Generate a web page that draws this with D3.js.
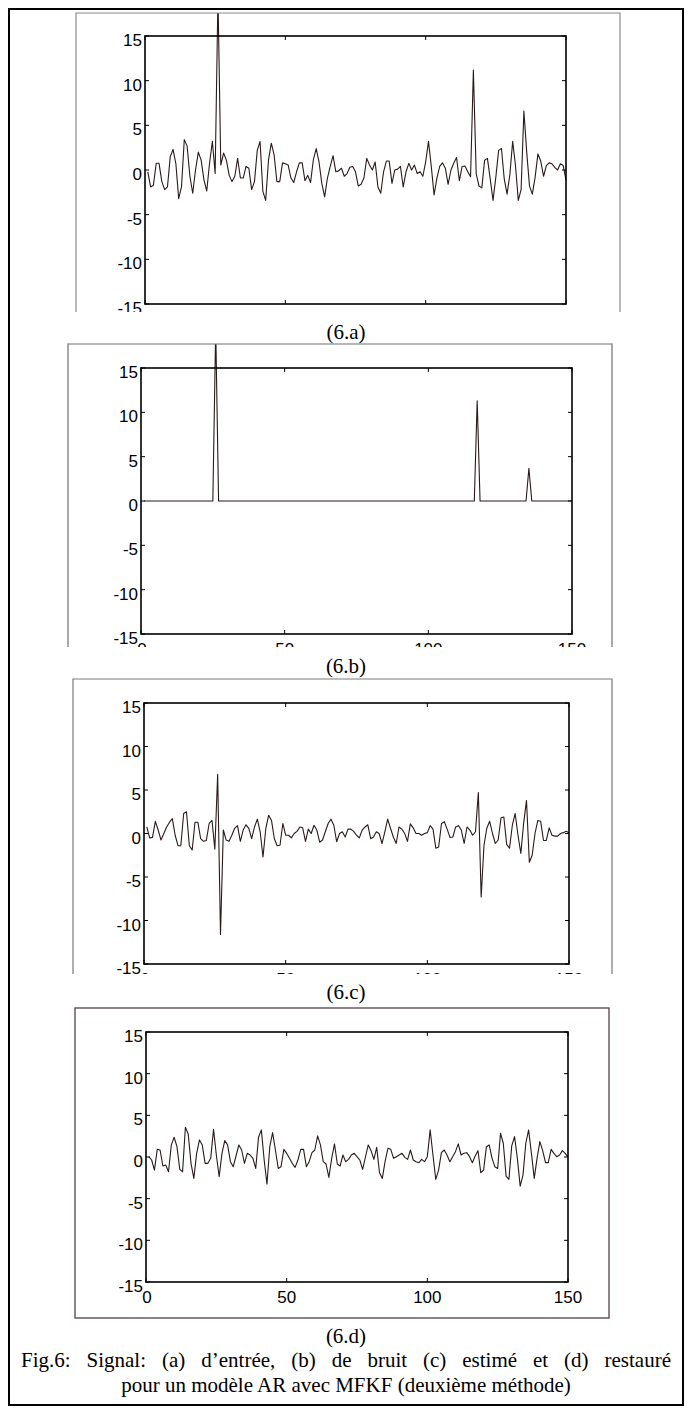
<!DOCTYPE html>
<html lang="fr">
<head>
<meta charset="UTF-8">
<title>Fig.6 Signal AR MFKF</title>
<script src="https://d3js.org/d3.v7.min.js"></script>
<style>
  body { margin: 0; background: #fff; }
  .tick-label { font-family: "Liberation Sans", Arial, sans-serif; font-size: 17px; fill: #000; }
  .caption { font-family: "Liberation Serif", "Times New Roman", serif; font-size: 21px; fill: #000; }
</style>
</head>
<body>
<svg id="fig" width="692" height="1412"></svg>
<script>
// axis ticks
const xTicks = [0, 50, 100, 150];
const yTicks = [-15, -10, -5, 0, 5, 10, 15];

// (6.a) signal d'entrée, samples 1..150
const inputSignal = [
  -0.2, -1.9, -1.7, 0.75, 0.75, -1.3, -2.2, -1.9, 1.5, 2.3,
  0.7, -3.2, -1.9, 3.4, 2.7, -0.7, -2.6, 0, 2.0, 1.1,
  -1.1, -2.35, 0.75, 3.2, -0.4, 19.5, 0.55, 1.9, 1.1, -0.6,
  -1.3, -0.7, 1.3, -0.9, -0.9, 0.4, 0.2, -2.2, -1.3, 2.2,
  3.2, -2.4, -3.4, 1.1, 3.0, 1.7, -1.3, -1.3, 0.8, 0.7,
  0.55, -0.9, -1.4, -0.2, 0.8, 0.8, -1.2, -0.6, -1.4, 1.2,
  2.4, 0.9, -1.5, -3.0, -0.9, 0.4, 1.6, -0.2, -0.1, 0.2,
  -0.7, -0.4, 0.3, 0.4, -0.2, -1.8, -1.6, -0.9, 1.3, 0.55,
  0, 0.9, -1.9, -2.6, -0.2, 1.0, 1.0, -1.5, 0, 0.1,
  0.4, -1.9, -0.2, 0.75, 0, 0.55, -0.4, -0.2, -0.7, 0.9,
  3.2, 0.4, -2.8, -0.9, 0.4, 0.8, 0.2, -1.6, 0, 0.75,
  1.4, -1.2, 0.4, 0.45, -0.2, -0.75, 11.2, -0.4, -1.8, -2.0,
  1.1, 1.3, -1.0, -3.4, -0.8, 2.2, 2.4, -1.0, -2.7, -0.5,
  3.2, 0.5, -3.4, -2.2, 6.6, 2.0, -1.8, -2.7, -0.8, 1.8,
  1.0, -0.7, 0.5, 0.8, 0.7, 0.3, 0, 0.7, 0.5, -1.1
];

// (6.b) signal de bruit
const noiseSignal = [
  0, 0, 0, 0, 0, 0, 0, 0, 0, 0,
  0, 0, 0, 0, 0, 0, 0, 0, 0, 0,
  0, 0, 0, 0, 0, 19.5, 0, 0, 0, 0,
  0, 0, 0, 0, 0, 0, 0, 0, 0, 0,
  0, 0, 0, 0, 0, 0, 0, 0, 0, 0,
  0, 0, 0, 0, 0, 0, 0, 0, 0, 0,
  0, 0, 0, 0, 0, 0, 0, 0, 0, 0,
  0, 0, 0, 0, 0, 0, 0, 0, 0, 0,
  0, 0, 0, 0, 0, 0, 0, 0, 0, 0,
  0, 0, 0, 0, 0, 0, 0, 0, 0, 0,
  0, 0, 0, 0, 0, 0, 0, 0, 0, 0,
  0, 0, 0, 0, 0, 0, 11.3, 0, 0, 0,
  0, 0, 0, 0, 0, 0, 0, 0, 0, 0,
  0, 0, 0, 0, 3.7, 0, 0, 0, 0, 0,
  0, 0, 0, 0, 0, 0, 0, 0, 0, 0
];

// (6.c) signal estimé
const estimatedSignal = [
  0.77, -0.5, -0.45, 1.4, 0.4, -0.75, 0, 0.75, 1.3, 1.7,
  -0.2, -1.4, -1.4, 2.3, 2.5, -1.4, -1.9, 1.3, 1.3, -0.6,
  -0.9, -0.8, 1.15, 1.5, -1.8, 6.8, -11.6, 0.4, -0.75, -0.9,
  -0.2, 0.6, 0.9, -0.9, 0.4, 1.0, 0.6, -0.6, 0.75, 1.65,
  0.2, -2.7, 0.6, 2.1, 1.5, -0.6, -1.4, -1.35, 1.15, -0.2,
  -0.2, -0.5, 0, 0.25, 0.75, 0.65, -0.9, 0.5, 0, 0.95,
  0.4, -1.0, -0.75, 0.2, 1.15, 1.65, 0.95, -0.95, 0, 0.2,
  -0.4, 0.5, 0.5, 0.25, -0.2, -0.5, 0.4, 0.75, 1.0, -0.6,
  -0.4, 0.2, 0, -1.15, 0.2, 1.65, 0.6, -0.4, -1.15, 0.75,
  0.5, 0, -0.9, 1.1, 0.65, 0, 0, -0.2, 0, 0.1,
  0.9, 0.5, -1.7, -1.55, 1.15, 1.35, 0.5, -0.45, -0.4, 0.75,
  0.9, 0.4, -1.15, 0.75, 0.4, -0.2, 0.2, 4.7, -7.3, -1.35,
  0.6, 1.4, 0, -1.15, -0.75, 1.8, 1.9, -1.25, -1.7, 0.95,
  2.3, -0.2, -2.3, 1.2, 3.8, -3.3, -2.5, 0, 1.5, 1.4,
  -0.8, -0.8, 0.65, -0.2, -0.3, -0.3, 0, 0.1, 0.25, 0.1
];

// (6.d) signal restauré
const restoredSignal = [
  0.04, -0.36, -1.57, 0.92, 0.84, -1.08, -0.96, -1.77, 1.45, 2.37,
  1.24, -1.49, -1.77, 3.57, 2.77, -0.76, -2.57, 0.44, 2.05, 1.45,
  -0.76, -0.76, -0.16, 3.33, 0.24, -2.37, 0.44, 1.97, 1.45, -0.56,
  -1.16, 0.12, 1.45, 0.84, -0.76, 0.44, 0.24, -0.16, -1.37, 2.37,
  3.25, -0.36, -3.25, 1.24, 2.93, 0.84, -1.37, -1.16, 0.92, 0.44,
  -0.16, -0.76, -1.24, -0.36, 0.92, 0.92, -1.16, -0.56, 0.52, 0.84,
  2.53, 1.45, -0.56, -0.84, -2.45, -0.16, 1.57, -0.84, -1.08, 0.24,
  -0.56, -0.28, 0.24, 0.44, 0.04, -0.36, -1.49, 0.0, 1.45, 0.76,
  -0.28, 1.16, -1.89, -2.57, -0.5, 1.04, 0.92, -0.16, 0.04, 0.24,
  0.44, -0.04, -0.28, 0.84, -0.36, -0.56, -0.68, -0.28, -0.56, 0.04,
  3.25, 0.24, -2.69, -1.57, 0.52, 0.84, 0.24, -0.56, 0.04, 0.64,
  1.57, 0.24, 0.44, 0.52, 0.04, -0.68, 0.12, 0.76, -1.89, -1.57,
  1.24, 1.45, -0.16, -1.16, -1.37, 2.85, 1.65, -2.29, -2.69, 1.33,
  2.45, -0.16, -3.49, -2.17, 1.65, 3.25, 0.44, -2.57, -0.16, 1.85,
  0.76, -0.68, -0.68, 0.92, 0.44, 0.04, 0.24, 0.76, 0.44, -0.04
];

const panelCaptions = ["(6.a)", "(6.b)", "(6.c)", "(6.d)"];
const figCaption = [
  "Fig.6: Signal: (a) d\u2019entrée, (b) de bruit (c) estimé et (d) restauré",
  "pour un modèle AR avec MFKF (deuxième méthode)"
];

// layout of each pasted figure: frame (grey box, cut at the bottom) and axes box
const panels = [
  { data: inputSignal, frame: { l: 76, r: 620, t: 13, b: 312 }, closed: false, frameColor: "#8a8a8a",
    axes: { l: 145, r: 566, t: 36, b: 304 }, captionY: 339 },
  { data: noiseSignal, frame: { l: 68, r: 612, t: 344, b: 647 }, closed: false, frameColor: "#6e6e6e",
    axes: { l: 141, r: 572, t: 368, b: 634 }, captionY: 673 },
  { data: estimatedSignal, frame: { l: 73, r: 612, t: 679, b: 974 }, closed: false, frameColor: "#7a7a7a",
    axes: { l: 144, r: 569, t: 703, b: 964 }, captionY: 999 },
  { data: restoredSignal, frame: { l: 75, r: 609, t: 1008, b: 1318 }, closed: true, frameColor: "#5e5050",
    axes: { l: 146, r: 568, t: 1032, b: 1282 }, captionY: 1343 }
];

const svg = d3.select("#fig");

// outer black border
svg.append("rect")
  .attr("x", 9).attr("y", 9)
  .attr("width", 674).attr("height", 1396)
  .attr("fill", "none").attr("stroke", "#000").attr("stroke-width", 2);

panels.forEach((p, i) => {
  const f = p.frame, a = p.axes;
  const clipId = "clip" + i;
  svg.append("clipPath").attr("id", clipId)
    .append("rect")
    .attr("x", f.l).attr("y", f.t)
    .attr("width", f.r - f.l).attr("height", f.b - f.t);

  const g = svg.append("g").attr("clip-path", `url(#${clipId})`);

  const x = d3.scaleLinear().domain([0, 150]).range([a.l, a.r]);
  const y = d3.scaleLinear().domain([-15, 15]).range([a.b, a.t]);

  // signal
  const line = d3.line().x((d, k) => x(k + 1)).y(d => y(d));
  g.append("path")
    .datum(p.data)
    .attr("d", line)
    .attr("fill", "none")
    .attr("stroke", "#2b1a1a")
    .attr("stroke-width", 1.1)
    .attr("stroke-linejoin", "round");

  // axes box
  g.append("rect")
    .attr("x", a.l).attr("y", a.t)
    .attr("width", a.r - a.l).attr("height", a.b - a.t)
    .attr("fill", "none").attr("stroke", "#000").attr("stroke-width", 1.6);

  // inward ticks on all four sides
  const tl = 4;
  yTicks.forEach(v => {
    g.append("line").attr("x1", a.l).attr("x2", a.l + tl)
      .attr("y1", y(v)).attr("y2", y(v)).attr("stroke", "#000");
    g.append("line").attr("x1", a.r).attr("x2", a.r - tl)
      .attr("y1", y(v)).attr("y2", y(v)).attr("stroke", "#000");
    g.append("text").attr("class", "tick-label")
      .attr("x", a.l - 3).attr("y", y(v) + 10)
      .attr("text-anchor", "end")
      .text(v);
  });
  xTicks.forEach(v => {
    g.append("line").attr("x1", x(v)).attr("x2", x(v))
      .attr("y1", a.b).attr("y2", a.b - tl).attr("stroke", "#000");
    g.append("line").attr("x1", x(v)).attr("x2", x(v))
      .attr("y1", a.t).attr("y2", a.t + tl).attr("stroke", "#000");
    g.append("text").attr("class", "tick-label")
      .attr("x", x(v) + (v === 0 ? 1 : 0)).attr("y", a.b + 21)
      .attr("text-anchor", "middle")
      .text(v);
  });

  // grey frame of the pasted figure
  if (p.closed) {
    svg.append("rect")
      .attr("x", f.l).attr("y", f.t)
      .attr("width", f.r - f.l).attr("height", f.b - f.t)
      .attr("fill", "none").attr("stroke", p.frameColor).attr("stroke-width", 1.4);
  } else {
    svg.append("path")
      .attr("d", `M${f.l},${f.b}V${f.t}H${f.r}V${f.b}`)
      .attr("fill", "none").attr("stroke", p.frameColor).attr("stroke-width", 1.2);
  }

  svg.append("text").attr("class", "caption")
    .attr("x", 346).attr("y", p.captionY)
    .attr("text-anchor", "middle")
    .text(panelCaptions[i]);
});

const capLines = svg.selectAll(".fig-caption")
  .data(figCaption)
  .enter().append("text")
  .attr("class", "caption fig-caption")
  .attr("x", 346)
  .attr("y", (d, k) => 1367 + k * 25)
  .attr("text-anchor", "middle")
  .text(d => d);

// first caption line is justified across the column (about 22..672)
capLines.filter((d, k) => k === 0).each(function(d) {
  const gaps = d.split(" ").length - 1;
  const extra = (650 - this.getComputedTextLength()) / gaps;
  if (extra > 0) d3.select(this).attr("word-spacing", extra);
});
</script>
</body>
</html>
